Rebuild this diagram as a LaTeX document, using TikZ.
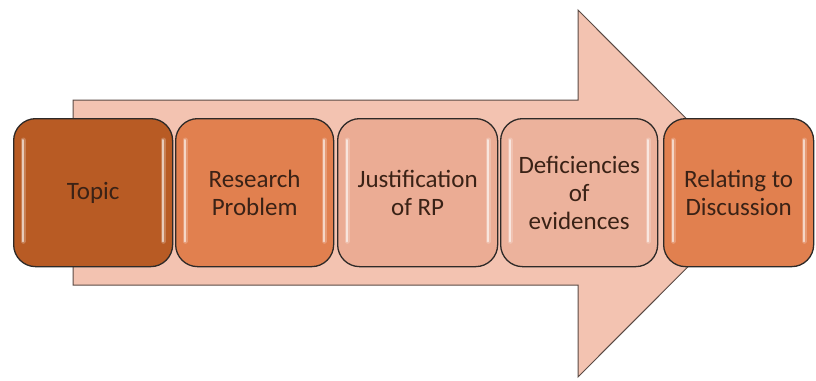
\documentclass[tikz,border=0pt]{standalone}
\usepackage{fontspec}
\setmainfont{Carlito}
\begin{document}
\begin{tikzpicture}[x=1pt,y=-1pt,
  arrowbody/.style={fill=arrowfill,draw=arrowline,line width=1pt,line join=miter},
  stagebox/.style={draw=boxline,line width=1.3pt,rounded corners=22pt,anchor=north west,
    minimum height=148pt,inner sep=4pt,align=center,text=textbrown,
    font=\fontsize{25}{28}\selectfont},
  gloss/.style={white,line cap=round}]
\definecolor{arrowfill}{HTML}{F3C3B1}
\definecolor{arrowline}{HTML}{5A4A44}
\definecolor{boxline}{HTML}{2E2A28}
\definecolor{textbrown}{HTML}{3A2216}
\definecolor{darkrust}{HTML}{B85B24}
\definecolor{midorange}{HTML}{E1804F}
\definecolor{paleorange}{HTML}{EBAC94}
\definecolor{paleorangeb}{HTML}{ECB29C}
\useasboundingbox (0,0) rectangle (816,380);
\clip (0,0) rectangle (816,380);
% big background arrow
\draw[arrowbody] (73,100) -- (578,100) -- (578,10) -- (761,193.5) -- (578,377) -- (578,285) -- (73,285) -- cycle;
% stage boxes
\node[stagebox,fill=darkrust,minimum width=159pt] (topic) at (13,118) {Topic};
\node[stagebox,fill=midorange,minimum width=158pt] (rp) at (175,118) {Research\\Problem};
\node[stagebox,fill=paleorange,minimum width=160pt] (just) at (337,118) {Justification\\of RP};
\node[stagebox,fill=paleorangeb,minimum width=157pt] (defic) at (500,118) {Deficiencies\\of\\evidences};
\node[stagebox,fill=midorange,minimum width=150pt] (relate) at (663,118) {Relating to\\Discussion};
% glossy edge highlights
\foreach \b in {topic,rp,just,defic,relate}{
  \draw[gloss,line width=5pt,opacity=0.22] ([xshift=10pt,yshift=-22pt]\b.north west) -- ([xshift=10pt,yshift=26pt]\b.south west);
  \draw[gloss,line width=2pt,opacity=0.6] ([xshift=10pt,yshift=-22pt]\b.north west) -- ([xshift=10pt,yshift=26pt]\b.south west);
  \draw[gloss,line width=5pt,opacity=0.22] ([xshift=-10pt,yshift=-22pt]\b.north east) -- ([xshift=-10pt,yshift=26pt]\b.south east);
  \draw[gloss,line width=2pt,opacity=0.6] ([xshift=-10pt,yshift=-22pt]\b.north east) -- ([xshift=-10pt,yshift=26pt]\b.south east);
}
\end{tikzpicture}
\end{document}
